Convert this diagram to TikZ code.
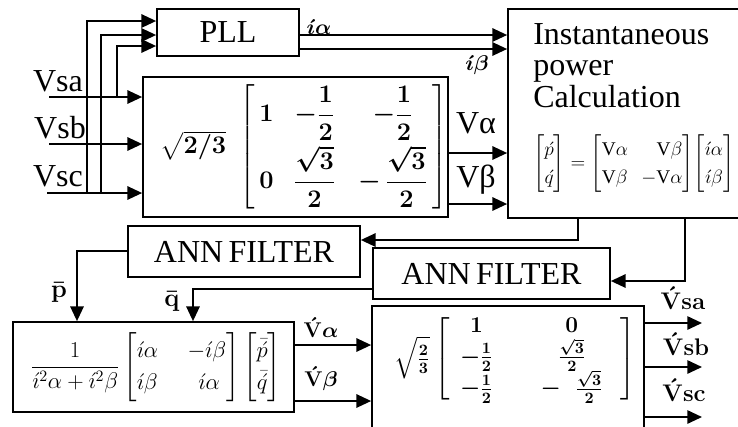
\RequirePackage{fix-cm}
\documentclass[tikz,border=0pt]{standalone}
\usepackage{amsmath}
\usepackage{fontspec}
\setmainfont{Liberation Serif}
\usetikzlibrary{arrows.meta}

\newcommand{\ih}{\acute{\imath}}
\newcommand{\Vh}{\acute{\mathbf{V}}}

\tikzset{
  blk/.style={draw, line width=1.3pt, inner sep=0pt},
  wire/.style={line width=1.3pt},
  sig/.style={wire, -{Triangle[length=11pt,width=10pt]}},
  txt/.style={font=\fontsize{24}{26}\selectfont, inner sep=0pt},
  lbl/.style={font=\fontsize{#1}{#1}\selectfont\boldmath, inner sep=0pt},
  lbl/.default=16,
}

\begin{document}
\begin{tikzpicture}[x=0.75pt,y=-0.75pt]
    \clip (0,0) rectangle (738,426);
    \fill[white] (0,0) rectangle (738,426);

    % blocks
    \node[blk, minimum width=106.5pt, minimum height=35.25pt, txt] (pll) at (228,32.5) {PLL};
    \node[blk, minimum width=228.75pt, minimum height=105pt] (clarke) at (295.5,147) {};
    \node[blk, minimum width=177.75pt, minimum height=156.75pt] (inst) at (626.5,113.5) {};
    \node[blk, minimum width=174pt, minimum height=38.25pt, txt] (annA) at (244,251.5) {ANN\,FILTER};
    \node[blk, minimum width=177.75pt, minimum height=38.25pt, txt] (annB) at (491.5,273.5) {ANN\,FILTER};
    \node[blk, minimum width=210.75pt, minimum height=67.5pt] (invc) at (153.5,367) {};
    \node[blk, minimum width=204pt, minimum height=100.5pt] (iclarke) at (508,373) {};

    % block contents
    \node[inner sep=0pt, font=\fontsize{19}{21}\selectfont\boldmath] (clarkeq) at (304,147)
        {$\sqrt{2/3}\;\left[\begin{array}{@{\,}l@{\hspace{15pt}}c@{\hspace{17pt}}c@{\,}}
            1 & -\dfrac{1}{2} & -\dfrac{1}{2}\\[12pt]
            0 & \dfrac{\sqrt{3}}{2} & -\,\dfrac{\sqrt{3}}{2}
          \end{array}\right]$};
    \node[txt, anchor=base west] (instA) at (533,44) {Instantaneous};
    \node[txt, anchor=base west] (instB) at (533,75) {power};
    \node[txt, anchor=base west] (instC) at (533,107) {Calculation};
    \node[inner sep=0pt, anchor=west, font=\fontsize{14.5}{16}\selectfont] (insteq) at (533,164)
        {$\renewcommand{\arraystretch}{1.3}\left[\begin{array}{@{}c@{}}\acute{p}\\ \acute{q}\end{array}\right]
          = \left[\begin{array}{@{}l@{\hspace{10pt}}r@{}}\mathrm{V}\alpha & \mathrm{V}\beta\\ \mathrm{V}\beta & -\mathrm{V}\alpha\end{array}\right]
          \!\left[\begin{array}{@{}c@{}}\ih\alpha\\ \ih\beta\end{array}\right]$};
    \node[inner sep=0pt, font=\fontsize{17}{19}\selectfont] (invceq) at (156,367)
        {$\dfrac{1}{\ih^2\alpha+\ih^2\beta}
          \renewcommand{\arraystretch}{1.25}\left[\begin{array}{@{}l@{\hspace{22pt}}r@{}}\ih\alpha & -\ih\beta\\ \ih\beta & \ih\alpha\;\end{array}\right]
          \left[\begin{array}{@{}c@{}}\bar{\acute{p}}\\ \bar{\acute{q}}\end{array}\right]$};
    \node[inner sep=0pt, font=\fontsize{17}{19}\selectfont\boldmath] (iclarkeq) at (515,359)
        {$\sqrt{\frac{2}{3}}\left[\begin{array}{@{\hspace{8pt}}c@{\hspace{36pt}}c@{\hspace{13pt}}}
            1 & 0\\[-1pt]
            -\tfrac{1}{2} & \tfrac{\sqrt{3}}{2}\\[-1pt]
            -\tfrac{1}{2} & -\;\;\tfrac{\sqrt{3}}{2}
          \end{array}\right]$};

    % source voltages
    \coordinate (vsa) at (49,97);
    \coordinate (vsb) at (49,144);
    \coordinate (vsc) at (47,193);
    \node[txt, anchor=base] (lsa) at (58,91) {Vsa};
    \node[txt, anchor=base] (lsb) at (60,138) {Vsb};
    \node[txt, anchor=base] (lsc) at (58,186) {Vsc};
    \foreach \v in {vsa,vsb,vsc}
        \draw[sig] (\v) -- (clarke.west |- \v);
    \foreach \x/\y/\from in {87/21/vsc, 101/35/vsc, 117/46/vsa}
        \draw[sig] (\x,0 |- \from) -- (\x,\y) -- (pll.west |- 0,\y);

    % PLL currents and alpha-beta voltages
    \draw[sig] (pll.east |- 0,35) -- (inst.west |- 0,35);
    \draw[sig] (pll.east |- 0,49) -- (inst.west |- 0,49);
    \draw[sig] (clarke.east |- 0,153) -- (inst.west |- 0,153);
    \draw[sig] (clarke.east |- 0,204) -- (inst.west |- 0,204);
    \node[lbl=16] (ia) at (319,27) {$\ih\alpha$};
    \node[lbl=16] (ib) at (477,65) {$\ih\beta$};
    \node[txt, anchor=base] (va) at (476,133) {Vα};
    \node[txt, anchor=base] (vb) at (476,187) {Vβ};

    % p and q through the filters
    \draw[sig] (inst.south -| 578,0) -- (578,240) -- (annA.east |- 0,240);
    \draw[sig] (inst.south -| 685,0) -- (685,281) -- (annB.east |- 0,281);
    \draw[sig] (annA.west |- 0,251) -- (77,251) -- (invc.north -| 77,0);
    \draw[sig] (annB.west |- 0,289) -- (193,289) -- (invc.north -| 193,0);
    \node[lbl=19] (pbar) at (59,292) {$\bar{\mathbf{p}}$};
    \node[lbl=19] (qbar) at (172,301) {$\bar{\mathbf{q}}$};

    % reference voltages
    \draw[sig] (invc.east |- 0,345) -- (iclarke.west |- 0,345);
    \draw[sig] (invc.east |- 0,401) -- (iclarke.west |- 0,401);
    \node[lbl=16] (vah) at (321,328) {$\Vh\boldsymbol{\alpha}$};
    \node[lbl=16] (vbh) at (321,379) {$\Vh\boldsymbol{\beta}$};
    \coordinate (osa) at (702,323);
    \coordinate (osb) at (702,367);
    \coordinate (osc) at (702,417);
    \foreach \o in {osa,osb,osc}
        \draw[sig] (iclarke.east |- \o) -- (\o);
    \node[lbl=18] (vsah) at (683,298) {$\Vh\mathbf{sa}$};
    \node[lbl=18] (vsbh) at (686,344) {$\Vh\mathbf{sb}$};
    \node[lbl=18] (vsch) at (684,390) {$\Vh\mathbf{sc}$};
\end{tikzpicture}
\end{document}
